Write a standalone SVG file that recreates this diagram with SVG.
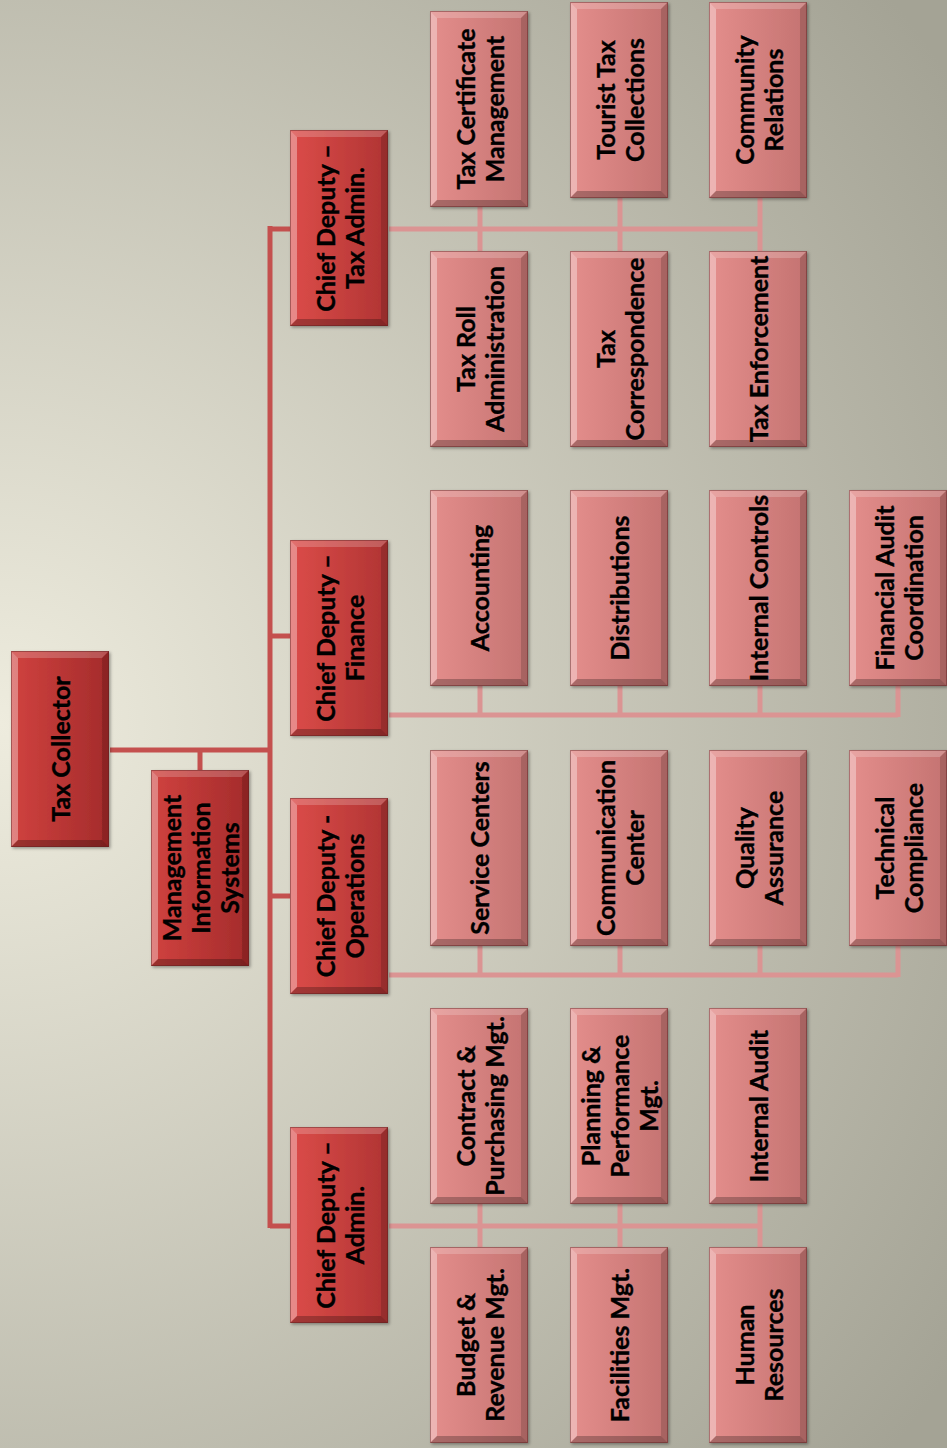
<svg xmlns="http://www.w3.org/2000/svg" xmlns:xlink="http://www.w3.org/1999/xlink" width="947" height="1448" viewBox="0 0 947 1448">
<defs>
<radialGradient id="bg" gradientUnits="userSpaceOnUse" cx="0" cy="724" r="1150">
<stop offset="0" stop-color="#EEECDE"/>
<stop offset="1" stop-color="#A4A395"/>
</radialGradient>
<linearGradient id="gTop" x1="0" y1="0" x2="1" y2="0">
<stop offset="0" stop-color="#D0423F"/>
<stop offset="1" stop-color="#A42B2B"/>
</linearGradient>
<linearGradient id="gDep" x1="0" y1="0" x2="1" y2="0">
<stop offset="0" stop-color="#DC4C49"/>
<stop offset="1" stop-color="#B03433"/>
</linearGradient>
<linearGradient id="gChild" x1="0" y1="0" x2="1" y2="0">
<stop offset="0" stop-color="#E48E8C"/>
<stop offset="1" stop-color="#C47371"/>
</linearGradient>
<filter id="sh" x="-10%" y="-10%" width="130%" height="130%">
<feDropShadow dx="1.5" dy="1.5" stdDeviation="1.5" flood-color="#000" flood-opacity="0.35"/>
</filter>
<g id="bevel">
<polygon points="0,0 98,0 91,7 7,7" fill="#fff" fill-opacity="0.2"/>
<polygon points="0,0 7,7 7,189 0,196" fill="#fff" fill-opacity="0.35"/>
<polygon points="98,0 98,196 91,189 91,7" fill="#000" fill-opacity="0.15"/>
<polygon points="0,196 7,189 91,189 98,196" fill="#000" fill-opacity="0.25"/>
<rect x="0.5" y="0.5" width="97" height="195" fill="none" stroke="#5a2020" stroke-opacity="0.45" stroke-width="1"/>
</g>
</defs>
<style>
.face{filter:url(#sh);}
.top .face{fill:url(#gTop);}
.dep .face{fill:url(#gDep);}
.child .face{fill:url(#gChild);}
.lbl{font-family:Lato,"Liberation Sans",sans-serif;font-weight:bold;font-size:25px;fill:#000;stroke:#000;stroke-width:0.35;text-anchor:middle;dominant-baseline:central;}
.main{stroke:#C4504E;stroke-width:5;fill:none;}
.sub{stroke:#DB9493;stroke-width:5;fill:none;}
</style>
<rect x="0" y="0" width="947" height="1448" fill="url(#bg)"/>

<g id="connectors">
<path class="main" d="M110,750 H270 M200,750 V770 M270,226 V1228 M270,229 H290 M270,636 H290 M270,896 H290 M270,1226 H290"/>
<path class="sub" d="M389,229 H760 M480,207 V251 M620,198 V251 M760,198 V251"/>
<path class="sub" d="M389,715 H898 M480,686 V715 M620,686 V715 M760,686 V715 M898,686 V717"/>
<path class="sub" d="M389,975 H898 M480,946 V975 M620,946 V975 M760,946 V975 M898,946 V977"/>
<path class="sub" d="M389,1226 H760 M480,1204 V1247 M620,1204 V1247 M760,1204 V1247"/>
</g>

<g id="n-tax-collector" class="node top" transform="translate(11,651)">
<rect class="face" width="98" height="196"/><use xlink:href="#bevel"/>
<text class="lbl" transform="translate(49,98) rotate(-90)"><tspan x="0" y="0">Tax Collector</tspan></text>
</g>
<g id="n-mis" class="node top" transform="translate(151,770)">
<rect class="face" width="98" height="196"/><use xlink:href="#bevel"/>
<text class="lbl" transform="translate(49,98) rotate(-90)"><tspan x="0" y="-29">Management</tspan><tspan x="0" y="0">Information</tspan><tspan x="0" y="29">Systems</tspan></text>
</g>

<g id="n-cd-taxadmin" class="node dep" transform="translate(290,130)">
<rect class="face" width="98" height="196"/><use xlink:href="#bevel"/>
<text class="lbl" transform="translate(49,98) rotate(-90)"><tspan x="0" y="-14.5">Chief Deputy –</tspan><tspan x="0" y="14.5">Tax Admin.</tspan></text>
</g>
<g id="n-cd-finance" class="node dep" transform="translate(290,540)">
<rect class="face" width="98" height="196"/><use xlink:href="#bevel"/>
<text class="lbl" transform="translate(49,98) rotate(-90)"><tspan x="0" y="-14.5">Chief Deputy –</tspan><tspan x="0" y="14.5">Finance</tspan></text>
</g>
<g id="n-cd-operations" class="node dep" transform="translate(290,798)">
<rect class="face" width="98" height="196"/><use xlink:href="#bevel"/>
<text class="lbl" transform="translate(49,98) rotate(-90)"><tspan x="0" y="-14.5">Chief Deputy -</tspan><tspan x="0" y="14.5">Operations</tspan></text>
</g>
<g id="n-cd-admin" class="node dep" transform="translate(290,1127)">
<rect class="face" width="98" height="196"/><use xlink:href="#bevel"/>
<text class="lbl" transform="translate(49,98) rotate(-90)"><tspan x="0" y="-14.5">Chief Deputy –</tspan><tspan x="0" y="14.5">Admin.</tspan></text>
</g>

<g id="n-tax-certificate" class="node child" transform="translate(430,11)">
<rect class="face" width="98" height="196"/><use xlink:href="#bevel"/>
<text class="lbl" transform="translate(49,98) rotate(-90)"><tspan x="0" y="-14.5">Tax Certificate</tspan><tspan x="0" y="14.5">Management</tspan></text>
</g>
<g id="n-tourist-tax" class="node child" transform="translate(570,2)">
<rect class="face" width="98" height="196"/><use xlink:href="#bevel"/>
<text class="lbl" transform="translate(49,98) rotate(-90)"><tspan x="0" y="-14.5">Tourist Tax</tspan><tspan x="0" y="14.5">Collections</tspan></text>
</g>
<g id="n-community" class="node child" transform="translate(709,2)">
<rect class="face" width="98" height="196"/><use xlink:href="#bevel"/>
<text class="lbl" transform="translate(49,98) rotate(-90)"><tspan x="0" y="-14.5">Community</tspan><tspan x="0" y="14.5">Relations</tspan></text>
</g>
<g id="n-tax-roll" class="node child" transform="translate(430,251)">
<rect class="face" width="98" height="196"/><use xlink:href="#bevel"/>
<text class="lbl" transform="translate(49,98) rotate(-90)"><tspan x="0" y="-14.5">Tax Roll</tspan><tspan x="0" y="14.5">Administration</tspan></text>
</g>
<g id="n-tax-corr" class="node child" transform="translate(570,251)">
<rect class="face" width="98" height="196"/><use xlink:href="#bevel"/>
<text class="lbl" transform="translate(49,98) rotate(-90)"><tspan x="0" y="-14.5">Tax</tspan><tspan x="0" y="14.5">Correspondence</tspan></text>
</g>
<g id="n-tax-enf" class="node child" transform="translate(709,251)">
<rect class="face" width="98" height="196"/><use xlink:href="#bevel"/>
<text class="lbl" transform="translate(49,98) rotate(-90)"><tspan x="0" y="0">Tax Enforcement</tspan></text>
</g>

<g id="n-accounting" class="node child" transform="translate(430,490)">
<rect class="face" width="98" height="196"/><use xlink:href="#bevel"/>
<text class="lbl" transform="translate(49,98) rotate(-90)"><tspan x="0" y="0">Accounting</tspan></text>
</g>
<g id="n-distributions" class="node child" transform="translate(570,490)">
<rect class="face" width="98" height="196"/><use xlink:href="#bevel"/>
<text class="lbl" transform="translate(49,98) rotate(-90)"><tspan x="0" y="0">Distributions</tspan></text>
</g>
<g id="n-internal-controls" class="node child" transform="translate(709,490)">
<rect class="face" width="98" height="196"/><use xlink:href="#bevel"/>
<text class="lbl" transform="translate(49,98) rotate(-90)"><tspan x="0" y="0">Internal Controls</tspan></text>
</g>
<g id="n-fin-audit" class="node child" transform="translate(849,490)">
<rect class="face" width="98" height="196"/><use xlink:href="#bevel"/>
<text class="lbl" transform="translate(49,98) rotate(-90)"><tspan x="0" y="-14.5">Financial Audit</tspan><tspan x="0" y="14.5">Coordination</tspan></text>
</g>

<g id="n-service-centers" class="node child" transform="translate(430,750)">
<rect class="face" width="98" height="196"/><use xlink:href="#bevel"/>
<text class="lbl" transform="translate(49,98) rotate(-90)"><tspan x="0" y="0">Service Centers</tspan></text>
</g>
<g id="n-comm-center" class="node child" transform="translate(570,750)">
<rect class="face" width="98" height="196"/><use xlink:href="#bevel"/>
<text class="lbl" transform="translate(49,98) rotate(-90)"><tspan x="0" y="-14.5">Communication</tspan><tspan x="0" y="14.5">Center</tspan></text>
</g>
<g id="n-quality" class="node child" transform="translate(709,750)">
<rect class="face" width="98" height="196"/><use xlink:href="#bevel"/>
<text class="lbl" transform="translate(49,98) rotate(-90)"><tspan x="0" y="-14.5">Quality</tspan><tspan x="0" y="14.5">Assurance</tspan></text>
</g>
<g id="n-tech-compliance" class="node child" transform="translate(849,750)">
<rect class="face" width="98" height="196"/><use xlink:href="#bevel"/>
<text class="lbl" transform="translate(49,98) rotate(-90)"><tspan x="0" y="-14.5">Technical</tspan><tspan x="0" y="14.5">Compliance</tspan></text>
</g>

<g id="n-contract" class="node child" transform="translate(430,1008)">
<rect class="face" width="98" height="196"/><use xlink:href="#bevel"/>
<text class="lbl" transform="translate(49,98) rotate(-90)"><tspan x="0" y="-14.5">Contract &amp;</tspan><tspan x="0" y="14.5">Purchasing Mgt.</tspan></text>
</g>
<g id="n-planning" class="node child" transform="translate(570,1008)">
<rect class="face" width="98" height="196"/><use xlink:href="#bevel"/>
<text class="lbl" transform="translate(49,98) rotate(-90)"><tspan x="0" y="-29">Planning &amp;</tspan><tspan x="0" y="0">Performance</tspan><tspan x="0" y="29">Mgt.</tspan></text>
</g>
<g id="n-internal-audit" class="node child" transform="translate(709,1008)">
<rect class="face" width="98" height="196"/><use xlink:href="#bevel"/>
<text class="lbl" transform="translate(49,98) rotate(-90)"><tspan x="0" y="0">Internal Audit</tspan></text>
</g>
<g id="n-budget" class="node child" transform="translate(430,1247)">
<rect class="face" width="98" height="196"/><use xlink:href="#bevel"/>
<text class="lbl" transform="translate(49,98) rotate(-90)"><tspan x="0" y="-14.5">Budget &amp;</tspan><tspan x="0" y="14.5">Revenue Mgt.</tspan></text>
</g>
<g id="n-facilities" class="node child" transform="translate(570,1247)">
<rect class="face" width="98" height="196"/><use xlink:href="#bevel"/>
<text class="lbl" transform="translate(49,98) rotate(-90)"><tspan x="0" y="0">Facilities Mgt.</tspan></text>
</g>
<g id="n-hr" class="node child" transform="translate(709,1247)">
<rect class="face" width="98" height="196"/><use xlink:href="#bevel"/>
<text class="lbl" transform="translate(49,98) rotate(-90)"><tspan x="0" y="-14.5">Human</tspan><tspan x="0" y="14.5">Resources</tspan></text>
</g>
</svg>
